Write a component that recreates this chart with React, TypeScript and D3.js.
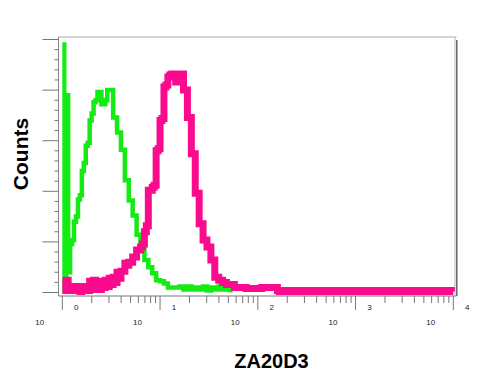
import React from 'react';
import * as d3 from 'd3';

// histogram channels, each 0.02 decade wide, starting at 10^0
const binWidth = 0.02;
const decades = [0, 1, 2, 3, 4];
const minorSteps = [2, 3, 4, 5, 6, 7, 8, 9];

const isotypeCounts = [
  245, 5, 195, 20, 48, 52, 70, 75, 92, 96, 120, 128, 145, 148, 170, 177, 188, 190, 198, 198,
  186, 186, 190, 200, 200, 200, 173, 173, 158, 158, 141, 141, 111, 111, 91, 91, 76, 76, 57, 57,
  45, 45, 32, 32, 25, 25, 19, 19, 12, 12, 11, 11, 9, 9, 5, 5, 5, 5, 5, 5,
  6, 6, 3, 3, 6, 6, 3, 3, 5, 5, 3, 3, 6, 6, 2, 2, 5, 5, 3, 3,
  6, 6, 3, 3, 4, 4,
];

const za20d3Counts = [
  11, 2, 12, 3, 6, 2, 5, 2, 6, 1, 5, 2, 6, 2, 11, 3, 12, 4, 10, 3,
  11, 5, 12, 6, 14, 8, 15, 10, 20, 14, 21, 21, 29, 27, 30, 30, 35, 35, 42, 42,
  45, 48, 60, 66, 101, 101, 104, 106, 140, 142, 170, 172, 203, 205, 213, 215, 216, 216, 208, 208,
  216, 216, 200, 200, 173, 173, 137, 137, 98, 98, 68, 68, 52, 52, 45, 45, 32, 32, 15, 15,
  12, 12, 10, 10, 8, 8, 8, 8, 5, 5, 5, 5, 5, 5, 4, 4, 4, 4, 4, 4,
  4, 4, 5, 5, 5, 5, 5, 5, 5, 5, 2, 1, 2, 1, 2, 2, 1, 2, 1, 1,
  2, 1, 2, 1, 1, 2, 1, 2, 2, 1, 1, 2, 1, 2, 1, 1, 2, 1, 2, 1,
  2, 1, 1, 2, 1, 2, 1, 2, 1, 1, 2, 1, 2, 1, 2, 1, 1, 2, 1, 2,
  1, 2, 1, 1, 2, 1, 2, 1, 2, 1, 1, 2, 1, 2, 1, 2, 1, 1, 2, 1,
  2, 1, 2, 1, 1, 2, 1, 2, 1, 2, 1, 1, 2, 1, 2, 1, 2, 1, 2, 1,
];

const countTicks = d3.range(0, 251, 10);

const font = 'Arial, "Liberation Sans", sans-serif';

export default function App() {
  const left = 58.5;
  const right = 456.5;
  const top = 37;
  const bottom = 296;

  const x = d3.scaleLinear().domain([0, 4]).range([62.3, 453.3]);
  const y = d3.scaleLinear().domain([0, 250]).range([292.5, 39.5]);

  const stepLine = d3
    .line<[number, number]>()
    .x(d => x(d[0]))
    .y(d => y(d[1]))
    .curve(d3.curveStepAfter);

  const toPoints = (counts: number[], endAtZero: boolean): [number, number][] => {
    const pts: [number, number][] = [[0, 0]];
    counts.forEach((c, i) => pts.push([i * binWidth, c]));
    pts.push([counts.length * binWidth, endAtZero ? 0 : counts[counts.length - 1]]);
    return pts;
  };

  const minorX: number[] = [];
  decades.slice(0, -1).forEach(d => minorSteps.forEach(k => minorX.push(d + Math.log10(k))));

  return (
    <svg
      width={500}
      height={387}
      style={{ position: 'absolute', left: 0, top: 0, background: '#fff' }}
    >
      <defs>
        <clipPath id="plot">
          <rect x={x(0)} y={top} width={right - x(0)} height={bottom - top} />
        </clipPath>
      </defs>

      {/* frame */}
      <line x1={left} x2={right} y1={top} y2={top} stroke="#aaa" strokeWidth={1} />
      <line x1={left} x2={left} y1={top} y2={bottom} stroke="#888" strokeWidth={1} />
      <line x1={455} x2={455} y1={top} y2={bottom} stroke="#bbb" strokeWidth={1} />
      <line x1={456.8} x2={456.8} y1={top + 3} y2={bottom} stroke="#666" strokeWidth={1.5} />
      <line x1={left} x2={right} y1={bottom} y2={bottom} stroke="#777" strokeWidth={1} />

      {/* y ticks */}
      {countTicks.map(t => (
        <line
          key={t}
          x1={t % 50 === 0 ? 42.5 : 54.5}
          x2={left}
          y1={y(t)}
          y2={y(t)}
          stroke="#777"
          strokeWidth={1}
        />
      ))}

      {/* x ticks */}
      {minorX.map((v, i) => (
        <line key={i} x1={x(v)} x2={x(v)} y1={bottom} y2={303} stroke="#777" strokeWidth={1} />
      ))}
      {decades.map(d => (
        <g key={d}>
          <line x1={x(d)} x2={x(d)} y1={bottom} y2={310} stroke="#777" strokeWidth={1} />
          <text x={x(d) + 14} y={310} fontSize={8} fontFamily={font} textAnchor="middle" fill="#222">
            {d}
          </text>
          <text x={x(d) - 22.5} y={324.5} fontSize={8} fontFamily={font} textAnchor="middle" fill="#222">
            10
          </text>
        </g>
      ))}

      <g clipPath="url(#plot)">
        <path
          d={stepLine(toPoints(isotypeCounts, true)) || ''}
          fill="none"
          stroke="#14ea14"
          strokeWidth={4.5}
          strokeLinejoin="miter"
        />
        <path
          d={stepLine(toPoints(za20d3Counts, false)) || ''}
          fill="none"
          stroke="#fa0a8c"
          strokeWidth={7}
          strokeLinejoin="miter"
        />
      </g>

      <text
        transform="translate(28,154) rotate(-90)"
        textAnchor="middle"
        fontSize={21}
        fontWeight="bold"
        fontFamily={font}
        fill="#000"
      >
        Counts
      </text>
      <text x={271.5} y={368} textAnchor="middle" fontSize={20} fontWeight="bold" fontFamily={font} fill="#000">
        ZA20D3
      </text>
    </svg>
  );
}
